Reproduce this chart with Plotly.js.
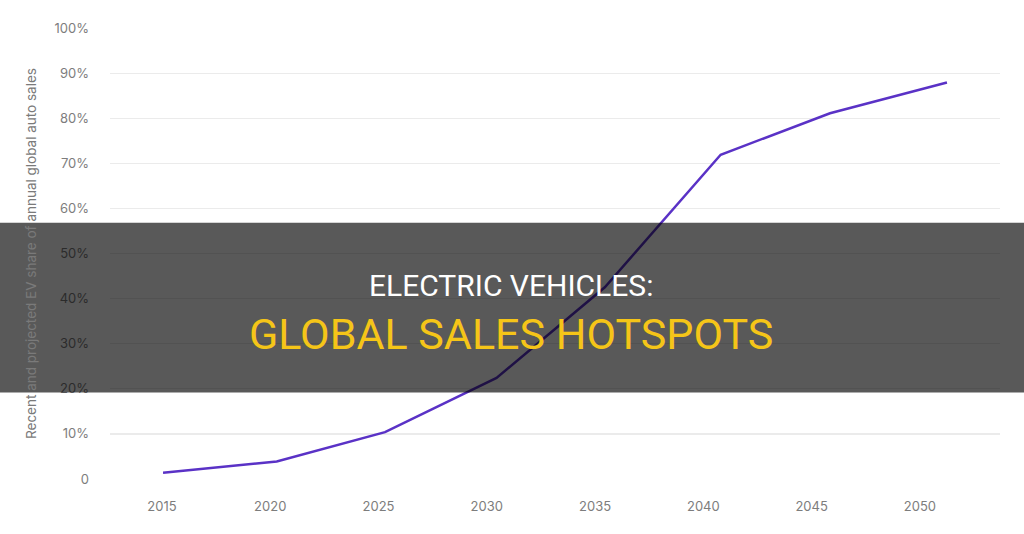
<!DOCTYPE html>
<html>
<head>
<meta charset="utf-8">
<script src="https://cdn.plot.ly/plotly-3.0.1.min.js"></script>
<style>
  html, body { margin: 0; padding: 0; background: #ffffff; }
  #chart { width: 1024px; height: 534px; }
</style>
</head>
<body>
<div id="chart"></div>
<script>
// Data (x positions)
const years = [2015.05, 2020.3, 2025.3, 2030.45, 2035.45, 2040.8, 2045.85, 2051.25];
const evShare = [1.4, 3.9, 10.4, 22.4, 42.5, 71.9, 81.1, 87.9];

const xTickVals = [2015, 2020, 2025, 2030, 2035, 2040, 2045, 2050];
const xTickText = ["2015", "2020", "2025", "2030", "2035", "2040", "2045", "2050"];
const yTickVals = [0, 10, 20, 30, 40, 50, 60, 70, 80, 90, 100];
const yTickText = ["0", "10%", "20%", "30%", "40%", "50%", "60%", "70%", "80%", "90%", "100%"];

const yTitle = "Recent and projected EV share of annual global auto sales";
const headline1 = "ELECTRIC VEHICLES:";
const headline2 = "GLOBAL SALES HOTSPOTS";

const tickFont = { family: "Inter, 'Open Sans', sans-serif", size: 13, color: "#7d7d7d" };

const trace = {
  x: years,
  y: evShare,
  type: "scatter",
  mode: "lines",
  line: { color: "#5a32c6", width: 2.5 },
  hoverinfo: "skip"
};

const layout = {
  width: 1024,
  height: 534,
  margin: { l: 110, r: 24, t: 28, b: 54.5 },
  paper_bgcolor: "#ffffff",
  plot_bgcolor: "#ffffff",
  showlegend: false,
  xaxis: {
    range: [2012.6, 2053.7],
    tickmode: "array",
    tickvals: xTickVals,
    ticktext: xTickText,
    showgrid: false,
    zeroline: false,
    showline: false,
    ticks: "",
    ticklabelstandoff: 18,
    tickfont: tickFont,
    fixedrange: true
  },
  yaxis: {
    range: [0, 100],
    tickmode: "array",
    tickvals: yTickVals,
    ticktext: yTickText,
    showgrid: true,
    gridcolor: "#ebebeb",
    gridwidth: 1.2,
    zeroline: false,
    showline: false,
    ticks: "",
    ticklabelstandoff: 20,
    tickfont: tickFont,
    title: { text: yTitle, font: { family: "Inter, 'Open Sans', sans-serif", size: 13.5, color: "#7a7a7a" }, standoff: 14 },
    fixedrange: true
  },
  shapes: [
    {
      type: "rect", xref: "paper", yref: "paper", layer: "above",
      x0: -0.2, x1: 1.1,
      y0: (534 - 54.5 - 393) / (534 - 28 - 54.5),
      y1: (534 - 54.5 - 223) / (534 - 28 - 54.5),
      fillcolor: "rgba(0,0,0,0.65)",
      line: { width: 0 }
    }
  ],
  annotations: [
    {
      text: headline1, xref: "paper", yref: "paper",
      x: (511 - 110) / 890, y: (479.5 - 286) / 451.5,
      xanchor: "center", yanchor: "middle", showarrow: false,
      font: { family: "Roboto, sans-serif", size: 30, color: "#ffffff" }
    },
    {
      text: headline2, xref: "paper", yref: "paper",
      x: (511 - 110) / 890, y: (479.5 - 334) / 451.5,
      xanchor: "center", yanchor: "middle", showarrow: false,
      font: { family: "Roboto, sans-serif", size: 43, color: "#f5c518" }
    }
  ]
};

Plotly.newPlot("chart", [trace], layout, { displayModeBar: false, staticPlot: true });
</script>
</body>
</html>
